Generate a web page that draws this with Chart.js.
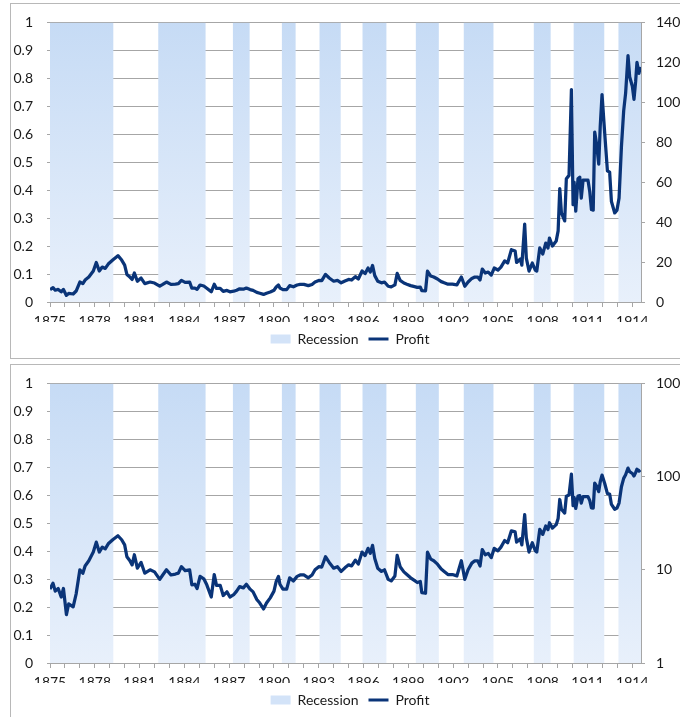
<!DOCTYPE html>
<html>
<head>
<meta charset="utf-8">
<script src="https://cdn.jsdelivr.net/npm/chart.js@4.4.1/dist/chart.umd.min.js"></script>
<style>
html, body { margin: 0; padding: 0; background: #fff; overflow: hidden; width: 680px; height: 717px; }
.frame { position: absolute; left: 10px; width: 720px; border: 1px solid #b8b8b8; }
#f1 { top: 3px; height: 354px; }
#f2 { top: 364px; height: 400px; }
.box { position: absolute; left: 0; width: 700px; height: 360px; }
#b1 { top: 0; }
#b2 { top: 361px; }
</style>
</head>
<body>
<div class="frame" id="f1"></div>
<div class="frame" id="f2"></div>
<div class="box" id="b1"><canvas id="linChart"></canvas></div>
<div class="box" id="b2"><canvas id="logChart"></canvas></div>
<script>
// monthly-ish profit readings (decimal years)
var years = [
    1875.00, 1875.20, 1875.35, 1875.55, 1875.75, 1875.90, 1876.10, 1876.25, 1876.55, 1876.75,
    1877.00, 1877.20, 1877.35, 1877.60, 1877.90, 1878.10, 1878.30, 1878.50, 1878.70, 1878.90,
    1879.20, 1879.55, 1879.80, 1880.00, 1880.15, 1880.35, 1880.50, 1880.65, 1880.85, 1881.10,
    1881.35, 1881.70, 1882.00, 1882.35, 1882.55, 1882.80, 1883.10, 1883.40, 1883.60, 1883.80,
    1884.05, 1884.35, 1884.50, 1884.70, 1884.85, 1885.05, 1885.30, 1885.50, 1885.80, 1886.00,
    1886.15, 1886.40, 1886.60, 1886.85, 1887.05, 1887.30, 1887.50, 1887.70, 1887.95, 1888.15,
    1888.40, 1888.60, 1888.85, 1889.05, 1889.30, 1889.50, 1889.75, 1890.00, 1890.15, 1890.30,
    1890.40, 1890.60, 1890.85, 1891.05, 1891.30, 1891.55, 1891.75, 1892.00, 1892.30, 1892.55,
    1892.75, 1893.00, 1893.20, 1893.45, 1893.70, 1894.00, 1894.25, 1894.50, 1894.75, 1895.00,
    1895.20, 1895.45, 1895.65, 1895.90, 1896.10, 1896.30, 1896.45, 1896.60, 1896.75, 1896.95,
    1897.20, 1897.40, 1897.65, 1897.85, 1898.10, 1898.25, 1898.45, 1898.70, 1898.90, 1899.15,
    1899.35, 1899.60, 1899.80, 1899.90, 1900.15, 1900.28, 1900.50, 1900.70, 1900.95, 1901.20,
    1901.40, 1901.65, 1901.95, 1902.25, 1902.55, 1902.78, 1903.00, 1903.25, 1903.45, 1903.65,
    1903.80, 1903.95, 1904.15, 1904.35, 1904.55, 1904.75, 1905.00, 1905.20, 1905.45, 1905.65,
    1905.90, 1906.15, 1906.25, 1906.50, 1906.60, 1906.79, 1906.90, 1907.08, 1907.30, 1907.50,
    1907.60, 1907.80, 1908.00, 1908.20, 1908.35, 1908.45, 1908.65, 1908.90, 1909.03, 1909.14,
    1909.25, 1909.47, 1909.58, 1909.76, 1909.92, 1910.03, 1910.10, 1910.21, 1910.36, 1910.48,
    1910.58, 1910.70, 1911.03, 1911.15, 1911.26, 1911.38, 1911.48, 1911.60, 1911.75, 1911.85,
    1911.97, 1912.15, 1912.33, 1912.48, 1912.60, 1912.82, 1912.97, 1913.11, 1913.27, 1913.42,
    1913.55, 1913.71, 1913.82, 1914.00, 1914.11, 1914.22, 1914.31, 1914.44, 1914.54
];
var profit = [
    6.2, 7.2, 5.9, 6.3, 5.1, 6.3, 3.3, 4.3, 4.0, 5.5,
    10.0, 9.2, 11.0, 12.5, 15.5, 19.8, 15.5, 17.5, 16.8, 19.0,
    21.0, 23.2, 21.0, 18.5, 13.8, 12.5, 11.3, 14.5, 10.4, 12.0,
    9.2, 10.0, 9.5, 7.9, 8.8, 10.0, 8.8, 9.0, 9.2, 10.8,
    9.8, 10.0, 6.9, 7.0, 6.3, 8.5, 8.0, 6.9, 5.1, 8.9,
    6.8, 6.8, 5.3, 5.8, 5.1, 5.4, 5.9, 6.6, 6.4, 7.0,
    6.2, 5.8, 4.8, 4.4, 3.8, 4.4, 5.0, 5.9, 7.5, 8.5,
    7.0, 6.2, 6.2, 8.2, 7.6, 8.5, 8.8, 8.8, 8.2, 8.8,
    10.0, 10.8, 10.7, 13.8, 12.0, 10.4, 10.8, 9.6, 10.5, 11.3,
    11.0, 12.7, 11.5, 15.5, 14.2, 17.0, 15.0, 18.3, 13.2, 10.4,
    9.6, 10.0, 7.9, 7.6, 8.6, 14.3, 10.8, 9.5, 8.9, 8.2,
    7.8, 7.3, 7.5, 5.7, 5.6, 15.5, 13.0, 12.5, 11.5, 10.2,
    9.6, 8.9, 8.9, 8.6, 12.5, 7.9, 10.0, 11.8, 12.5, 12.5,
    11.0, 16.5, 14.5, 15.0, 13.5, 17.0, 16.0, 17.5, 20.6, 19.5,
    26.2, 25.5, 19.8, 21.5, 18.5, 39.0, 22.0, 15.5, 19.5, 16.0,
    15.5, 27.1, 24.0, 29.5, 27.0, 32.0, 28.0, 30.5, 35.6, 56.8,
    44.6, 40.6, 61.7, 63.4, 106.4, 48.7, 60.0, 45.5, 61.7, 62.5,
    52.0, 61.0, 61.0, 55.2, 46.3, 46.0, 85.1, 79.4, 69.0, 88.0,
    103.8, 84.4, 65.7, 65.0, 50.3, 44.6, 46.0, 52.0, 77.8, 95.7,
    104.6, 123.4, 112.8, 108.0, 101.5, 110.3, 120.0, 114.5, 117.7
];
// recession periods (decimal years)
var recStart = [1873.75, 1882.25, 1887.25, 1890.53, 1893.05, 1895.93, 1899.5, 1902.71, 1907.4, 1910.07, 1913.07];
var recEnd = [1879.24, 1885.42, 1888.37, 1891.45, 1894.47, 1897.53, 1901.04, 1904.7, 1908.53, 1912.12, 1915.0];

var navy = '#0a3478';
var gridColor = '#a6a6a6';
var textColor = '#1a1a1a';
var font = { family: 'Lato', size: 14 };

var profitPoints = years.map(function (y, i) { return { x: y, y: profit[i] }; });

// each recession becomes a box on the 0..1 left axis
var recPoints = [];
recStart.forEach(function (s, i) {
    recPoints.push({ x: s, y: 0 }, { x: s, y: 1 }, { x: recEnd[i], y: 1 }, { x: recEnd[i], y: 0 });
});

function recFill(context) {
    var area = context.chart.chartArea;
    if (!area) {
        return '#d6e5f8';
    }
    var g = context.chart.ctx.createLinearGradient(0, area.top, 0, area.bottom);
    g.addColorStop(0, '#c6dbf5');
    g.addColorStop(1, '#e8f0fb');
    return g;
}

function makeChart(id, rightAxis) {
    var ctx = document.getElementById(id).getContext('2d');
    return new Chart(ctx, {
        type: 'line',
        data: {
            datasets: [
                {
                    label: 'Profit',
                    data: profitPoints,
                    yAxisID: 'y1',
                    borderColor: navy,
                    borderWidth: 3.25,
                    borderJoinStyle: 'round',
                    pointRadius: 0,
                    fill: false,
                    order: 0
                },
                {
                    label: 'Recession',
                    data: recPoints,
                    yAxisID: 'y',
                    borderWidth: 0,
                    borderColor: 'rgba(0,0,0,0)',
                    backgroundColor: recFill,
                    pointRadius: 0,
                    fill: 'origin',
                    order: 1
                }
            ]
        },
        options: {
            responsive: true,
            maintainAspectRatio: false,
            animation: false,
            layout: { padding: { top: 16, bottom: 4, left: 0, right: 0 } },
            plugins: {
                tooltip: { enabled: false },
                legend: {
                    position: 'bottom',
                    labels: {
                        font: font,
                        color: textColor,
                        usePointStyle: true,
                        pointStyleWidth: 20,
                        boxHeight: 9,
                        padding: 10,
                        generateLabels: function () {
                            return [
                                { text: 'Recession', fillStyle: '#d3e3f8', strokeStyle: '#d3e3f8', lineWidth: 0, pointStyle: 'rect', datasetIndex: 1, fontColor: textColor },
                                { text: 'Profit', fillStyle: navy, strokeStyle: navy, lineWidth: 3, pointStyle: 'line', datasetIndex: 0, fontColor: textColor }
                            ];
                        }
                    }
                }
            },
            scales: {
                x: {
                    type: 'linear',
                    min: 1875,
                    max: 1914.58,
                    afterFit: function (s) { s.height = 20; },
                    grid: { display: true, drawOnChartArea: false, drawTicks: true, tickLength: 5, color: gridColor },
                    border: { display: true, color: gridColor },
                    ticks: {
                        stepSize: 1,
                        autoSkip: false,
                        maxRotation: 0,
                        includeBounds: false,
                        padding: 6,
                        font: font,
                        color: textColor,
                        callback: function (v) {
                            var yr = Math.round(v);
                            return (yr - 1875) % 3 === 0 ? String(yr) : '';
                        }
                    }
                },
                y: {
                    position: 'left',
                    min: 0,
                    max: 1,
                    afterFit: function (s) { s.width = 50; },
                    grid: { color: gridColor, tickLength: 3 },
                    border: { display: true, color: gridColor },
                    ticks: {
                        stepSize: 0.1,
                        padding: 14,
                        font: font,
                        color: textColor,
                        callback: function (v) { return String(Math.round(v * 10) / 10); }
                    }
                },
                y1: rightAxis
            }
        }
    });
}

// top panel: linear profit axis
makeChart('linChart', {
    type: 'linear',
    position: 'right',
    min: 0,
    max: 140,
    afterFit: function (s) { s.width = 59; },
    grid: { drawOnChartArea: false, tickLength: 4, color: gridColor },
    border: { display: true, color: gridColor },
    ticks: { stepSize: 20, padding: 11, font: font, color: textColor }
});

// bottom panel: log profit axis
makeChart('logChart', {
    type: 'logarithmic',
    position: 'right',
    min: 1,
    max: 1000,
    afterFit: function (s) { s.width = 59; },
    afterBuildTicks: function (s) {
        s.ticks = [1, 10, 100, 1000].map(function (v) { return { value: v }; });
    },
    grid: { drawOnChartArea: false, tickLength: 4, color: gridColor },
    border: { display: true, color: gridColor },
    ticks: { padding: 11, font: font, color: textColor, callback: function (v) { return String(v); } }
});
</script>
</body>
</html>
